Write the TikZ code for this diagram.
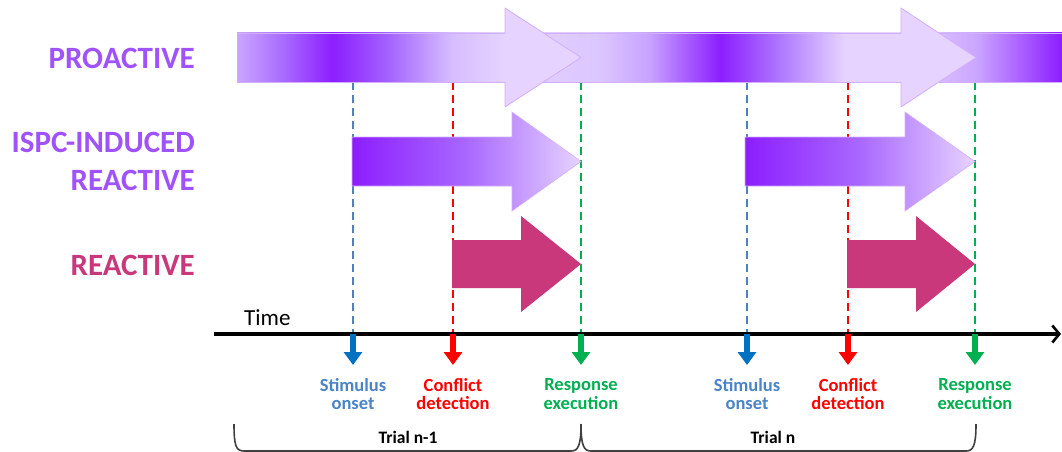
\documentclass[tikz,border=0pt]{standalone}
\usepackage{fontspec}
\setmainfont{Carlito}
\usetikzlibrary{arrows.meta}

% palette
\definecolor{pA}{HTML}{CBA6FF}
\definecolor{pB}{HTML}{A86BFF}
\definecolor{pDark}{HTML}{8C1EFF}
\definecolor{pC}{HTML}{A25FFF}
\definecolor{pD}{HTML}{D6BDFF}
\definecolor{pLight}{HTML}{E6D3FF}
\definecolor{pE}{HTML}{DCC6FF}
\definecolor{pF}{HTML}{C7A2FF}
\definecolor{pG}{HTML}{B07AFF}
\definecolor{pEdge}{HTML}{D2AEFF}
\definecolor{labelPurple}{HTML}{A052FF}
\definecolor{reactPink}{HTML}{C8387A}
\definecolor{dashBlue}{HTML}{4F81BD}
\definecolor{arrowBlue}{HTML}{0070C0}
\definecolor{textBlue}{HTML}{4A84C6}
\definecolor{mkRed}{HTML}{FF0000}
\definecolor{mkGreen}{HTML}{00B050}
\definecolor{braceGray}{HTML}{404040}

% banded gradient of the proactive ribbon (path spans 25bp..75bp)
\pgfdeclarehorizontalshading{proband}{100bp}{%
  color(0bp)=(pA); color(25bp)=(pA); color(27.8bp)=(pB); color(30.8bp)=(pDark);
  color(34bp)=(pC); color(38bp)=(pD); color(41.2bp)=(pLight); color(47bp)=(pE);
  color(50bp)=(pF); color(54.3bp)=(pDark); color(58bp)=(pG); color(61.8bp)=(pLight);
  color(65.2bp)=(pLight); color(69.8bp)=(pA); color(75bp)=(pDark); color(100bp)=(pDark)}

\begin{document}
\begin{tikzpicture}[x=1pt,y=-1pt,
  rowlabel/.style={font=\bfseries\fontsize{31}{38}\selectfont, anchor=east, align=right, inner sep=0pt},
  guide/.style={line width=2.4pt, dash pattern=on 8pt off 5pt},
  marker/.style={line width=6.5pt, -{Triangle[length=13pt,width=18pt]}},
  eventlabel/.style={font=\bfseries\fontsize{18.5}{18.5}\selectfont, align=center, inner sep=0pt},
  trialbrace/.style={line width=1.6pt, draw=braceGray},
  triallabel/.style={font=\bfseries\fontsize{17.5}{18}\selectfont, inner sep=0pt},
  headfill/.style={fill=pLight},
  headedge/.style={draw=pEdge, line width=0.8pt, line join=round},
  ispc/.style={left color=pDark, right color=pLight, middle color=pG!80!pDark, draw=pEdge, line width=0.6pt},
  reactive/.style={fill=reactPink}
]
\useasboundingbox (0,0) rectangle (1062,452);

% event positions on the time axis
\foreach \nm/\x in {sa/353, ca/453, ra/581, sb/747, cb/848, rb/975}{
  \coordinate (\nm top) at (\x,82);
  \coordinate (\nm axis) at (\x,334);
  \coordinate (\nm tip) at (\x,365);
}

% dashed guides from the ribbon down to the axis
\draw[guide, dashBlue] (satop) -- (saaxis);
\draw[guide, mkRed]    (catop) -- (caaxis);
\draw[guide, mkGreen]  (ratop) -- (raaxis);
\draw[guide, dashBlue] (sbtop) -- (sbaxis);
\draw[guide, mkRed]    (cbtop) -- (cbaxis);
\draw[guide, mkGreen]  (rbtop) -- (rbaxis);

% proactive ribbon
\shade[shading=proband] (237,33) rectangle (1062,82);
\draw[pEdge, line width=0.6pt] (237,82) -- (237,33) -- (1062,33) (237,82) -- (1062,82);
\foreach \b/\t in {505/581, 901/976}{
  \fill[headfill] (\b,8) -- (\t,57.5) -- (\b,107) -- cycle;
  \draw[headedge] (\b,33) -- (\b,8) -- (\t,57.5) -- (\b,107) -- (\b,82);
}

% ISPC-induced reactive arrows
\path[ispc] (352,137) -- (512,137) -- (512,112) -- (581,161.5) -- (512,211) -- (512,186) -- (352,186) -- cycle;
\path[ispc] (745,137) -- (905,137) -- (905,112) -- (975,161.5) -- (905,211) -- (905,186) -- (745,186) -- cycle;

% reactive arrows
\path[reactive] (452,240) -- (521,240) -- (521,216) -- (581,264) -- (521,312) -- (521,288) -- (452,288) -- cycle;
\path[reactive] (847,240) -- (916,240) -- (916,216) -- (975,264) -- (916,312) -- (916,288) -- (847,288) -- cycle;

% row labels
\node[rowlabel, text=labelPurple] (lpro) at (195,58) {PROACTIVE};
\node[rowlabel, text=labelPurple] (lispc) at (195,161) {ISPC-INDUCED\\REACTIVE};
\node[rowlabel, text=reactPink] (lreact) at (195,265) {REACTIVE};

% time axis
\coordinate (tstart) at (214,334);
\coordinate (tend) at (1061,334);
\draw[line width=3.2pt, -{Straight Barb[length=7pt,width=17pt,line width=2.6pt]}] (tstart) -- (tend);
\node[font=\fontsize{23}{24}\selectfont, anchor=base west, inner sep=0pt] (ltime) at (244,325) {Time};

% event markers
\draw[marker, arrowBlue] (saaxis) -- (satip);
\draw[marker, mkRed]     (caaxis) -- (catip);
\draw[marker, mkGreen]   (raaxis) -- (ratip);
\draw[marker, arrowBlue] (sbaxis) -- (sbtip);
\draw[marker, mkRed]     (cbaxis) -- (cbtip);
\draw[marker, mkGreen]   (rbaxis) -- (rbtip);

% event labels
\node[eventlabel, text=textBlue] (lsa) at (353,394) {Stimulus\\onset};
\node[eventlabel, text=mkRed]    (lca) at (453,394) {Conflict\\detection};
\node[eventlabel, text=mkGreen]  (lra) at (581,394) {Response\\execution};
\node[eventlabel, text=textBlue] (lsb) at (747,394) {Stimulus\\onset};
\node[eventlabel, text=mkRed]    (lcb) at (848,394) {Conflict\\detection};
\node[eventlabel, text=mkGreen]  (lrb) at (975,394) {Response\\execution};

% trial braces
\draw[trialbrace] (234,424) .. controls (234,446) and (236,451) .. (244,451) -- (571,451)
  .. controls (578,451) and (581,446) .. (581,424);
\draw[trialbrace] (581,424) .. controls (581,446) and (584,451) .. (591,451) -- (966,451)
  .. controls (973,451) and (976,446) .. (976,424);
\node[triallabel] (ltrial1) at (408,437) {Trial n-1};
\node[triallabel] (ltrial2) at (773,437) {Trial n};
\end{tikzpicture}
\end{document}
